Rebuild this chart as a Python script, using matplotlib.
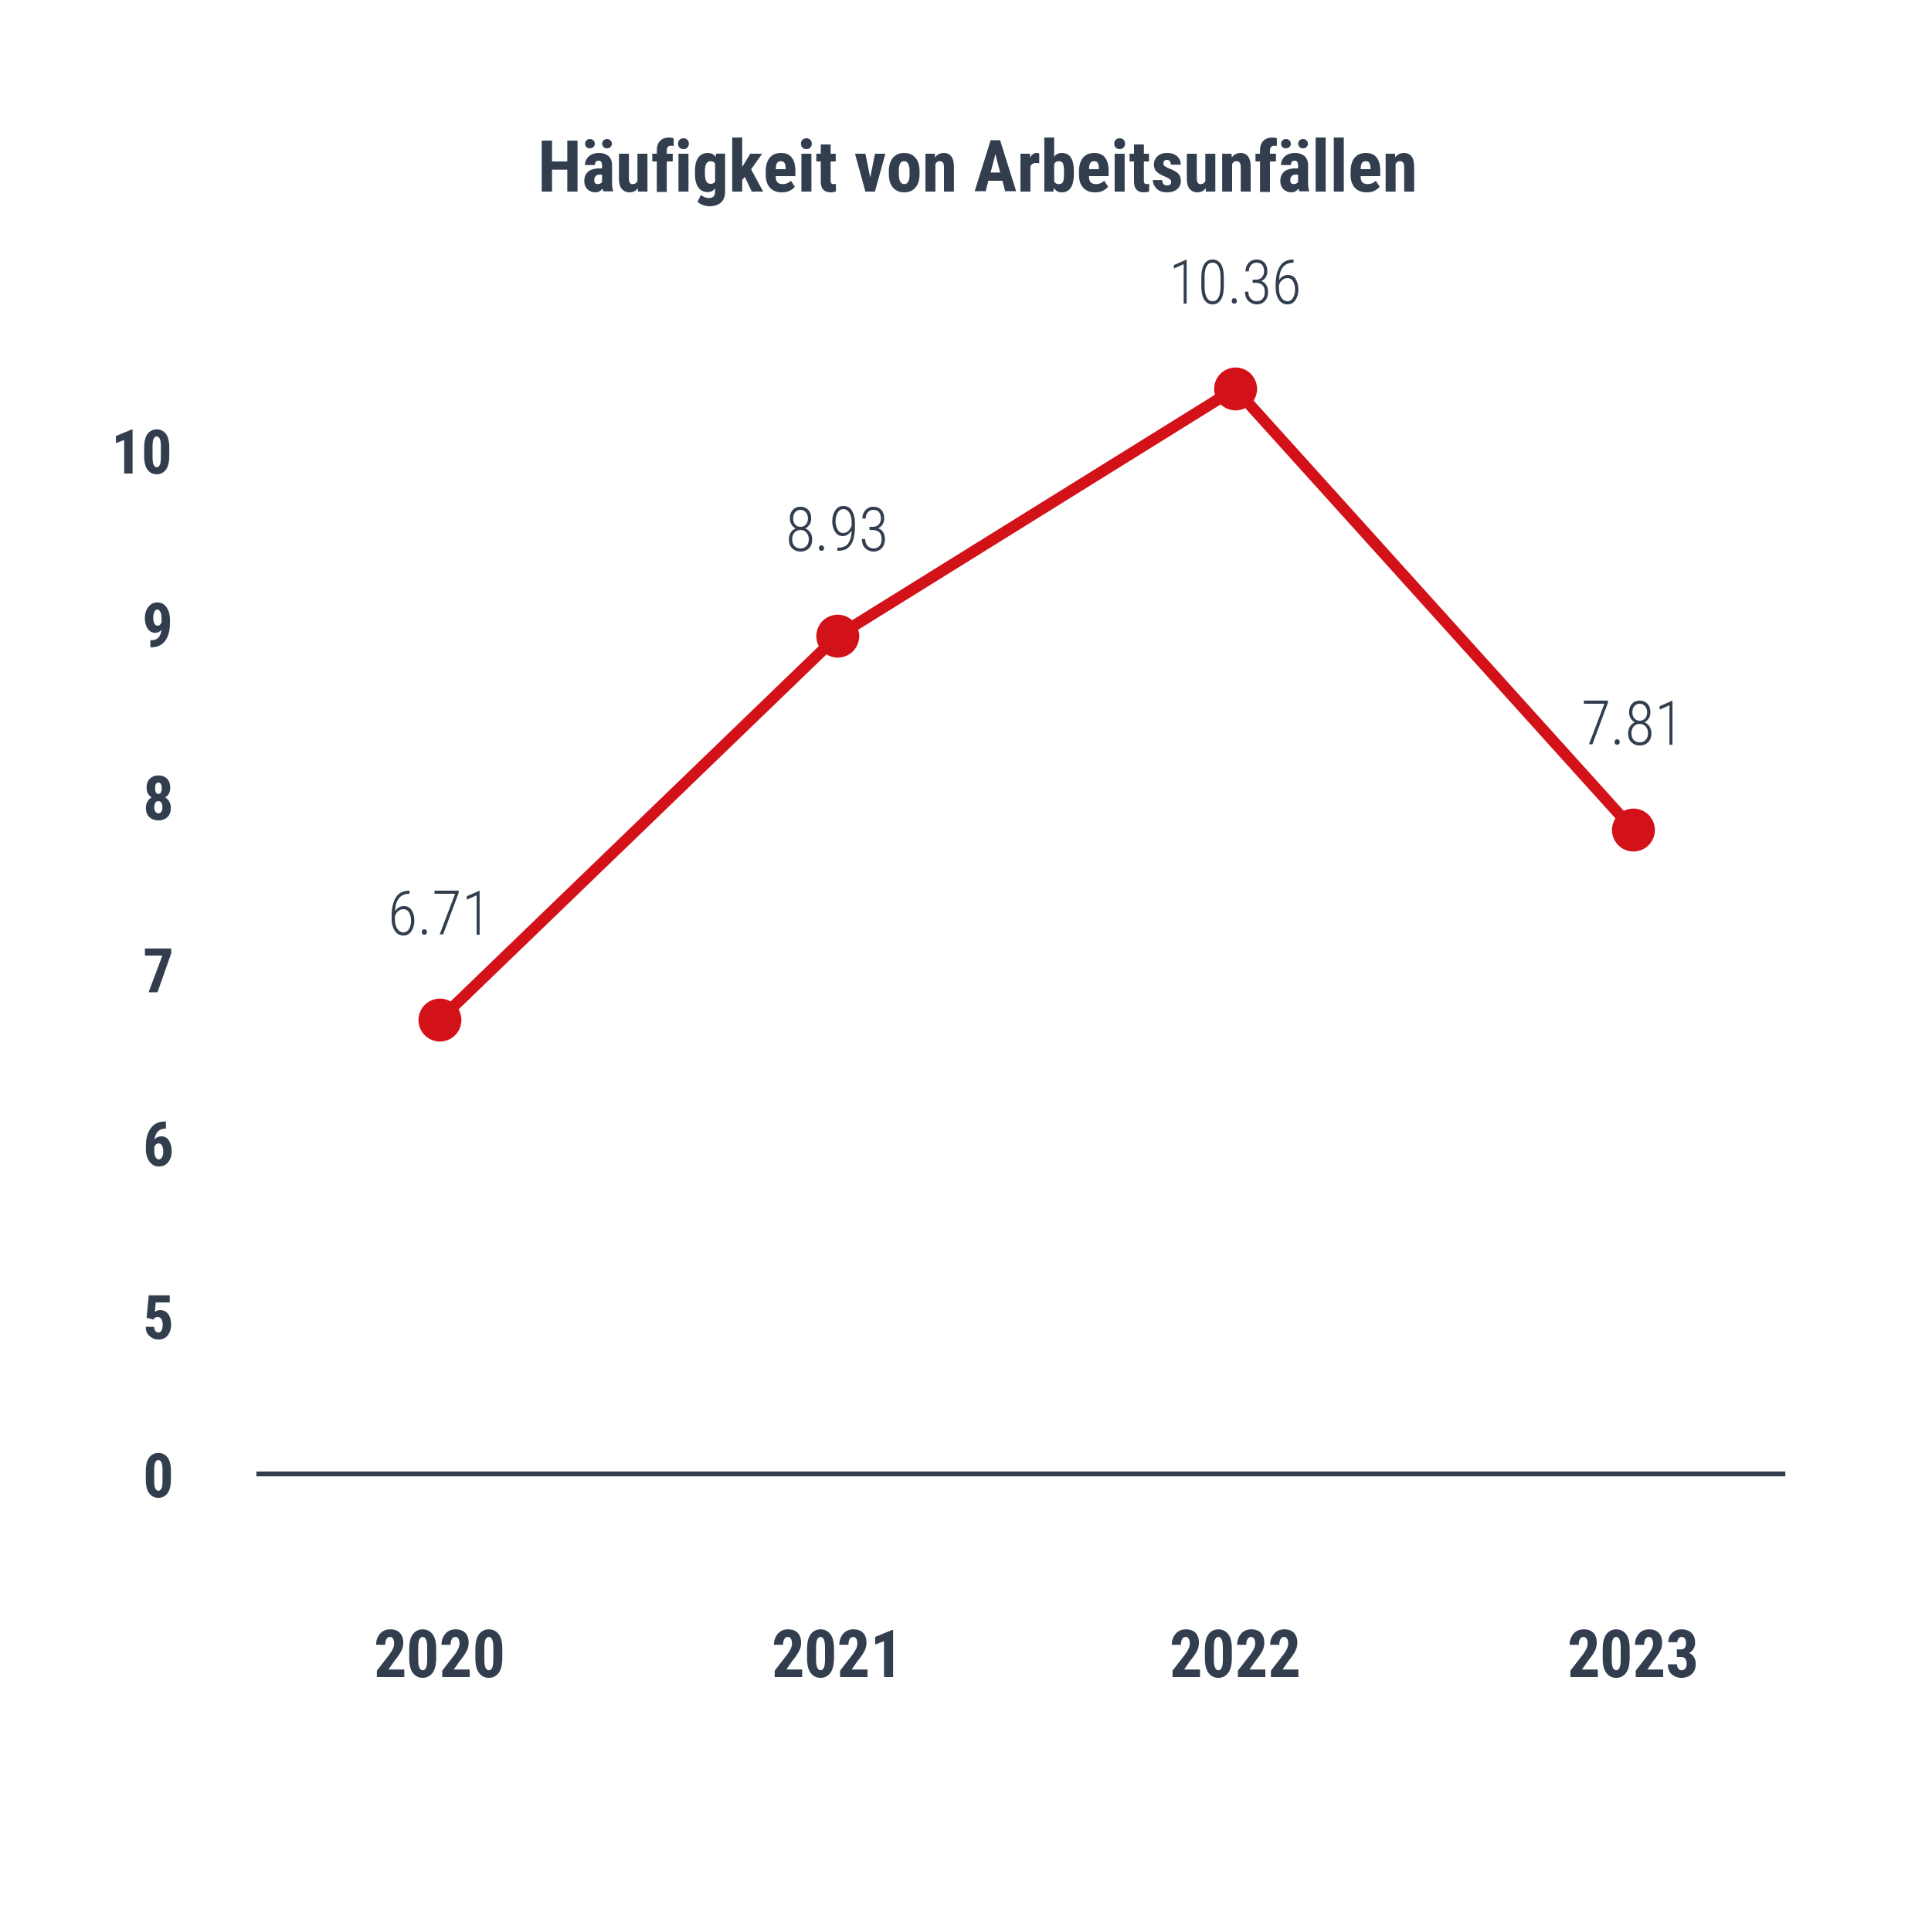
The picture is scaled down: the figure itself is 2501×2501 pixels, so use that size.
import matplotlib.pyplot as plt
import numpy as np

years = ['2020', '2021', '2022', '2023']
werte = [6.71, 8.93, 10.36, 7.81]
y_ticks = [0, 5, 6, 7, 8, 9, 10]

rot = '#d31118'
dunkel = '#323e4e'
kopf = ['Roboto Condensed', 'Roboto', 'DejaVu Sans']

# broken axis: 0..5 squeezed together
def vor(y):
    y = np.asarray(y, dtype=float)
    return np.where(y >= 5, y, 5 - (5 - y) * 0.183)

def zurueck(y):
    y = np.asarray(y, dtype=float)
    return np.where(y >= 5, y, 5 - (5 - y) / 0.183)

fig = plt.figure(figsize=(25.01, 25.01), dpi=100)
ax = fig.add_axes([0.134, 0.2371, 0.789, 0.619])
ax.set_yscale('function', functions=(vor, zurueck))

x = np.arange(len(years))
ax.plot(x, werte, color=rot, linewidth=10.5, marker='o', markersize=39,
        solid_joinstyle='round', zorder=3)

for xi, w in zip(x, werte):
    ax.annotate(f'{w:.2f}', (xi, w), xytext=(0, 95), textcoords='offset points',
                ha='center', va='center', fontsize=57, color=dunkel,
                family=kopf, fontweight='light')

ax.set_xlim(-0.454, 3.377)
ax.set_ylim(0, 11)
ax.set_xticks(x)
ax.set_xticklabels(years)
ax.set_yticks(y_ticks)
ax.set_yticklabels([str(t) for t in y_ticks])
ax.tick_params(axis='x', length=0, pad=143, labelsize=61, labelcolor=dunkel)
ax.tick_params(axis='y', length=0, pad=80, labelsize=57, labelcolor=dunkel)
for lab in ax.get_xticklabels() + ax.get_yticklabels():
    lab.set_family(kopf)
    lab.set_fontweight('bold')

for s in ['left', 'top', 'right']:
    ax.spines[s].set_visible(False)
ax.spines['bottom'].set_color(dunkel)
ax.spines['bottom'].set_linewidth(4.5)

fig.text(0.506, 0.911, 'Häufigkeit von Arbeitsunfällen', ha='center', va='center',
         fontsize=67, fontweight='bold', color=dunkel, family=kopf)

fig.savefig('out.png', dpi=100)
